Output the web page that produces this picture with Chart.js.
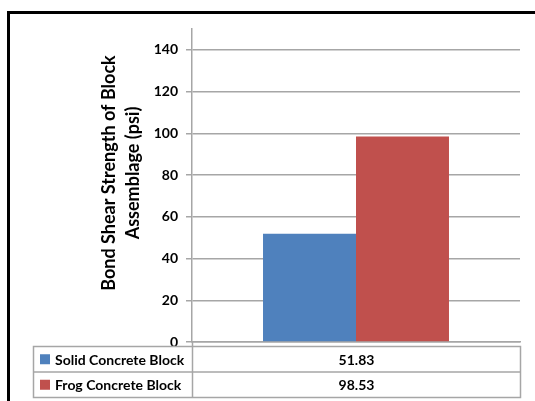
<!DOCTYPE html>
<html>
<head>
<meta charset="utf-8">
<script src="https://cdn.jsdelivr.net/npm/chart.js@4.4.1/dist/chart.umd.min.js"></script>
<style>
  html, body { margin: 0; padding: 0; background: #fff; }
  #wrap { position: relative; width: 535px; height: 401px; }
</style>
</head>
<body>
<div id="wrap"><canvas id="bondChart"></canvas></div>
<script>
// Données
const blockTypes = ['Solid Concrete Block', 'Frog Concrete Block'];
const bondStrength = [51.83, 98.53];
const yTickValues = [0, 20, 40, 60, 80, 100, 120, 140];
const yMax = 150;
const axisTitle = ['Bond Shear Strength of Block', 'Assemblage (psi)'];

const blockColors = ['#4F81BD', '#C0504D'];
const gridGray = '#a6a6a6';
const boldFont = 'bold 14px Lato, "Open Sans", sans-serif';

// Cadre noir, titre de l'axe et tableau de données sous le graphique
const tablePlugin = {
    id: 'dataTable',
    afterDraw(chart) {
        const ctx = chart.ctx;
        const area = chart.chartArea;
        ctx.save();

        // cadre
        ctx.fillStyle = '#000';
        ctx.fillRect(7, 11, 528, 3);
        ctx.fillRect(7, 11, 3, 390);

        // titre de l'axe y (deux lignes)
        ctx.fillStyle = '#000';
        ctx.font = 'bold 18px Lato, "Open Sans", sans-serif';
        ctx.textAlign = 'center';
        ctx.textBaseline = 'middle';
        const midY = 173;
        [109, 133].forEach((x, i) => {
            ctx.save();
            ctx.translate(x, midY);
            ctx.rotate(-Math.PI / 2);
            ctx.fillText(axisTitle[i], 0, 0);
            ctx.restore();
        });

        // tableau
        const left = 33.5, right = area.right + 0.5;
        const top = area.bottom + 4.5, rowH = 25.5;
        const split = Math.round(area.left) + 0.5;
        ctx.strokeStyle = gridGray;
        ctx.lineWidth = 1.5;
        ctx.strokeRect(left, top, right - left, rowH * blockTypes.length);
        ctx.beginPath();
        for (let i = 1; i < blockTypes.length; i++) {
            ctx.moveTo(left, top + rowH * i);
            ctx.lineTo(right, top + rowH * i);
        }
        ctx.moveTo(split, area.bottom);
        ctx.lineTo(split, top + rowH * blockTypes.length);
        ctx.stroke();

        ctx.font = boldFont;
        ctx.textBaseline = 'middle';
        blockTypes.forEach((name, i) => {
            const cy = top + rowH * i + rowH / 2;
            ctx.fillStyle = blockColors[i];
            ctx.fillRect(40, cy - 5, 10, 10);
            ctx.fillStyle = '#000';
            ctx.textAlign = 'left';
            ctx.fillText(name, 55, cy + 1);
            ctx.textAlign = 'center';
            ctx.fillText(bondStrength[i].toFixed(2), (split + right) / 2, cy + 1);
        });
        ctx.restore();
    }
};

function graph() {
    const ctx = document.getElementById('bondChart').getContext('2d');
    new Chart(ctx, {
        type: 'bar',
        data: {
            labels: [''],
            datasets: blockTypes.map((name, i) => ({
                label: name,
                data: [bondStrength[i]],
                backgroundColor: blockColors[i],
                borderWidth: 0,
                barPercentage: 1,
                categoryPercentage: 0.567
            }))
        },
        options: {
            responsive: true,
            maintainAspectRatio: false,
            animation: false,
            layout: {
                padding: { left: 0, top: 29, right: 15, bottom: 0 }
            },
            plugins: {
                legend: { display: false },
                tooltip: { enabled: false }
            },
            scales: {
                x: {
                    grid: { display: false },
                    border: { display: true, color: gridGray, width: 1.5 },
                    ticks: { display: false },
                    afterFit(scale) { scale.height = 59; }
                },
                y: {
                    min: 0,
                    max: yMax,
                    afterBuildTicks(scale) {
                        scale.ticks = yTickValues.map(v => ({ value: v }));
                    },
                    grid: { color: gridGray, lineWidth: 1.5, tickLength: 6 },
                    border: { display: true, color: gridGray, width: 1.5 },
                    ticks: {
                        color: '#000',
                        padding: 8,
                        font: { family: 'Lato, "Open Sans", sans-serif', size: 14, weight: 'bold' }
                    },
                    afterFit(scale) { scale.width = 192; }
                }
            }
        },
        plugins: [tablePlugin]
    });
}

document.addEventListener('DOMContentLoaded', function() {
    graph();
});
</script>
</body>
</html>
